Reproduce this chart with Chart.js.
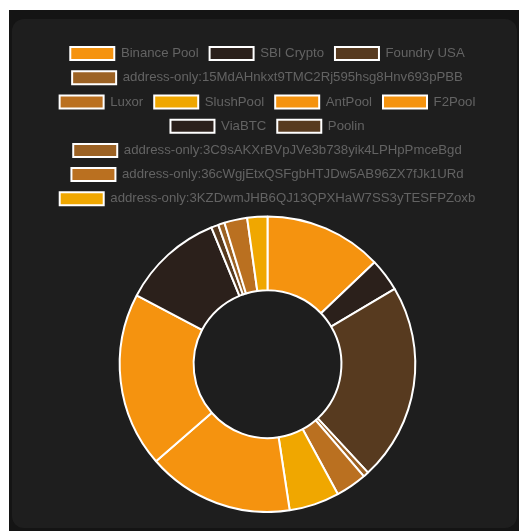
<!DOCTYPE html>
<html>
<head>
<meta charset="utf-8">
<script src="https://cdn.jsdelivr.net/npm/chart.js@4"></script>
<style>
	html, body { margin: 0; padding: 0; background: #ffffff; }
	.frame { position: absolute; left: 9px; top: 10px; width: 510px; height: 521px; background: #141414; }
	.panel { position: absolute; left: 3px; top: 9px; width: 505px; height: 509px; background: #1e1e1e; border-radius: 12px; }
	.wrap { position: absolute; left: 11px; top: 17px; width: 489px; height: 477px; }
</style>
</head>
<body>
<div class="frame">
	<div class="panel">
		<div class="wrap"><canvas id="pool-chart"></canvas></div>
	</div>
</div>
<script>
const pools = [
	'Binance Pool',
	'SBI Crypto',
	'Foundry USA',
	'address-only:15MdAHnkxt9TMC2Rj595hsg8Hnv693pPBB',
	'Luxor',
	'SlushPool',
	'AntPool',
	'F2Pool',
	'ViaBTC',
	'Poolin',
	'address-only:3C9sAKXrBVpJVe3b738yik4LPHpPmceBgd',
	'address-only:36cWgjEtxQSFgbHTJDw5AB96ZX7fJk1URd',
	'address-only:3KZDwmJHB6QJ13QPXHaW7SS3yTESFPZoxb',
];
const shares = [12.9, 3.6, 21.6, 0.6, 3.4, 5.5, 16.0, 19.1, 11.1, 0.8, 0.7, 2.5, 2.2];
const poolColors = [
	'#f5930f', '#2b201b', '#573a1f', '#9c6224', '#ba7020', '#f0a700', '#f5930f',
	'#f5930f', '#2b201b', '#573a1f', '#9c6224', '#ba7020', '#f0a700',
];

const canvas = document.getElementById('pool-chart');

new Chart(canvas, {
	type: 'doughnut',
	data: {
		labels: pools,
		datasets: [
			{
				data: shares,
				backgroundColor: poolColors,
				borderColor: '#ffffff',
				borderWidth: 2,
			},
		],
	},
	options: {
		responsive: true,
		maintainAspectRatio: false,
		animation: false,
		cutout: '50%',
		plugins: {
			legend: {
				position: 'top',
				labels: {
					color: '#636363',
					boxWidth: 44,
					boxHeight: 13,
					padding: 11,
					font: {
						family: 'Liberation Sans',
						size: 13.2,
					},
				},
			},
			tooltip: { enabled: false },
		},
	},
});
</script>
</body>
</html>
